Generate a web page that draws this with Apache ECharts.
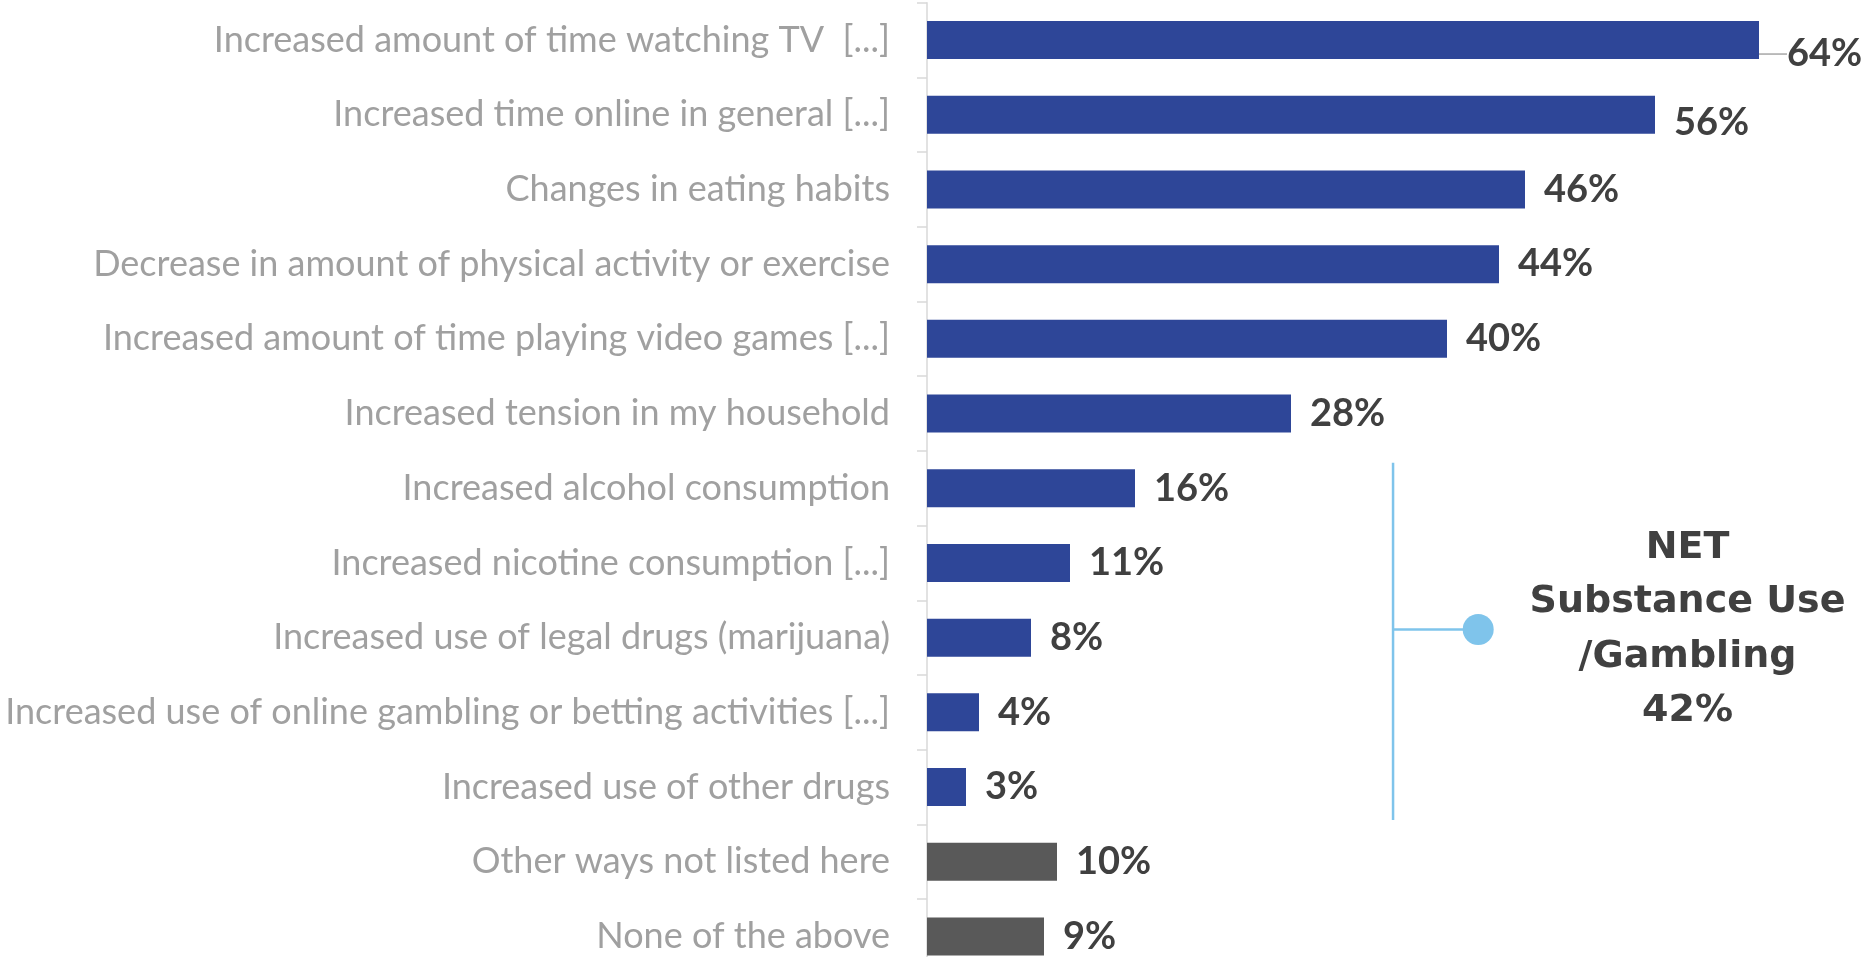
<!DOCTYPE html>
<html>
<head>
<meta charset="utf-8">
<style>
  html, body { margin: 0; padding: 0; background: #ffffff; }
  #chart { width: 1870px; height: 957px; }
</style>
<script src="https://cdn.jsdelivr.net/npm/echarts@6/dist/echarts.min.js"></script>
</head>
<body>
<div id="chart"></div>
<script>
// ---- data ----
const categories = [
  'Increased amount of time watching TV  [...]',
  'Increased time online in general [...]',
  'Changes in eating habits',
  'Decrease in amount of physical activity or exercise',
  'Increased amount of time playing video games [...]',
  'Increased tension in my household',
  'Increased alcohol consumption',
  'Increased nicotine consumption [...]',
  'Increased use of legal drugs (marijuana)',
  'Increased use of online gambling or betting activities [...]',
  'Increased use of other drugs',
  'Other ways not listed here',
  'None of the above'
];
const values = [64, 56, 46, 44, 40, 28, 16, 11, 8, 4, 3, 10, 9];
const kinds = ['effect','effect','effect','effect','effect','effect','effect','effect','effect','effect','effect','other','other'];
const netLabelLines = ['NET', 'Substance Use', '/Gambling'];
const netValue = 42;
const netFirstIndex = 6;
const netLastIndex = 10;

// ---- styles ----
const kindColor = { effect: '#2E4698', other: '#595959' };
const bracketColor = '#7FC4EB';
const bracketX = 35.85;   // value-axis position of the bracket line
const dotX = 42.4;        // value-axis position of the dot
const textX = 58.5;       // value-axis position of the NET text centre

const chart = echarts.init(document.getElementById('chart'), null, { renderer: 'canvas' });

const option = {
  animation: false,
  backgroundColor: '#ffffff',
  grid: { left: 927, top: 2.7, width: 910, height: 971.1, containLabel: false, outerBoundsMode: 'none' },
  xAxis: {
    type: 'value', min: 0, max: 70,
    show: false
  },
  yAxis: {
    type: 'category',
    inverse: true,
    data: categories,
    axisLine: { show: true, lineStyle: { color: '#d9d9d9', width: 1.5 } },
    axisTick: { show: true, length: 10, lineStyle: { color: '#d9d9d9', width: 1.5 } },
    axisLabel: {
      margin: 37,
      color: '#a0a0a0',
      fontFamily: 'Lato',
      fontSize: 36
    },
    splitLine: { show: false }
  },
  series: [
    {
      type: 'bar',
      barWidth: 38,
      data: values.map((v, i) => {
        const item = { value: v, itemStyle: { color: kindColor[kinds[i]] } };
        if (i === 0) {
          item.label = { padding: [0, 0, 0, 9] };
          item.labelLine = { show: true, lineStyle: { color: '#a6a6a6', width: 1.5 } };
        }
        return item;
      }),
      label: {
        show: true,
        position: 'right',
        distance: 19,
        formatter: p => p.value + '%',
        color: '#404040',
        fontFamily: 'Lato',
        fontWeight: 'bold',
        fontSize: 38
      },
      labelLayout: function (params) {
        if (params.dataIndex === 0) return { dx: 0, dy: 14 };
        if (params.dataIndex === 1) return { dy: 8 };
        return {};
      }
    },
    {
      type: 'custom',
      silent: true,
      data: [[netValue, netFirstIndex]],
      encode: { x: 0, y: 1 },
      renderItem: function (params, api) {
        const top = api.coord([bracketX, netFirstIndex]);
        const bot = api.coord([bracketX, netLastIndex]);
        const band = api.size([0, 1])[1];
        const x = top[0];
        const y0 = top[1] - 0.34 * band;
        const y1 = bot[1] + 0.44 * band;
        const mid = api.coord([dotX, (netFirstIndex + netLastIndex) / 2]);
        const ym = mid[1] - 0.11 * band;
        const tx = api.coord([textX, 0])[0];
        return {
          type: 'group',
          children: [
            { type: 'line', shape: { x1: x, y1: y0, x2: x, y2: y1 },
              style: { stroke: bracketColor, lineWidth: 2.5 } },
            { type: 'line', shape: { x1: x, y1: ym, x2: mid[0], y2: ym },
              style: { stroke: bracketColor, lineWidth: 2.5 } },
            { type: 'circle', shape: { cx: mid[0], cy: ym, r: 15.5 },
              style: { fill: bracketColor } },
            { type: 'text',
              style: {
                x: tx, y: ym,
                text: netLabelLines.concat([api.value(0) + '%']).join('\n'),
                align: 'center', verticalAlign: 'middle',
                fill: '#404040',
                font: 'bold 38px "DejaVu Sans"',
                lineHeight: 54.5
              } }
          ]
        };
      }
    }
  ]
};

chart.setOption(option);
</script>
</body>
</html>
